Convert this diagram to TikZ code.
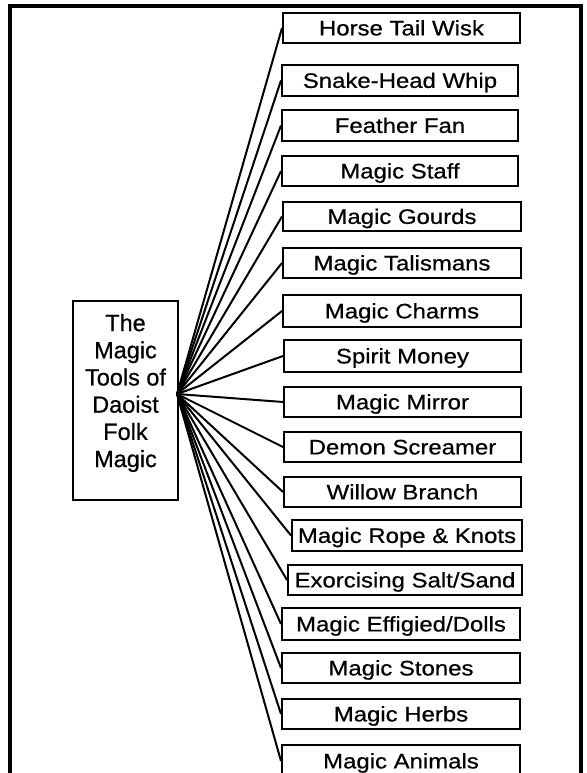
\documentclass[tikz,border=0pt]{standalone}
\usepackage{fontspec}
\setmainfont{Liberation Sans}[FakeBold=0.6]
\newfontfamily\boxfont{Liberation Sans}[FakeStretch=1.14, FakeBold=0.6]
\begin{document}
\begin{tikzpicture}[x=1pt, y=-1pt,
  item/.style={draw, line width=2pt, inner sep=0pt,
    font=\boxfont\fontsize{21}{25}\selectfont, text height=14.8pt, text depth=0pt},
  rootbox/.style={draw, line width=2.4pt, inner sep=0pt, minimum width=105pt, minimum height=199pt},
  roottext/.style={inner sep=0pt, align=center, font=\fontsize{23.5}{27.2}\selectfont},
  conn/.style={line width=2pt},
  frame/.style={line width=3.2pt}]
\clip (0,0) rectangle (586,773);
\fill[white] (0,0) rectangle (586,773);
% outer frame
\coordinate (fbl) at (10,780);
\coordinate (ftl) at (10,6);
\coordinate (ftr) at (581,6);
\coordinate (fbr) at (581,780);
\draw[frame] (fbl) -- (ftl) -- (ftr) -- (fbr);
% root
\node[rootbox] (root) at (125.5,400.5) {};
\node[roottext] (roottxt) at (125.5,393) {The\\Magic\\Tools of\\Daoist\\Folk\\Magic};
\coordinate (hub) at (177,394);
% items
\node[item, minimum width=237pt, minimum height=30pt] (n1) at (401.5,28) {Horse Tail Wisk};
\node[item, minimum width=236pt, minimum height=31pt] (n2) at (400,80.5) {Snake-Head Whip};
\node[item, minimum width=236pt, minimum height=31pt] (n3) at (400,125.5) {Feather Fan};
\node[item, minimum width=236pt, minimum height=30pt] (n4) at (400,171) {Magic Staff};
\node[item, minimum width=238pt, minimum height=29pt] (n5) at (402,216.5) {Magic Gourds};
\node[item, minimum width=238pt, minimum height=30pt] (n6) at (402,263) {Magic Talismans};
\node[item, minimum width=238pt, minimum height=32pt] (n7) at (402,311) {Magic Charms};
\node[item, minimum width=237pt, minimum height=32pt] (n8) at (402.5,356) {Spirit Money};
\node[item, minimum width=237pt, minimum height=30pt] (n9) at (402.5,402) {Magic Mirror};
\node[item, minimum width=237pt, minimum height=30pt] (n10) at (402.5,447) {Demon Screamer};
\node[item, minimum width=237pt, minimum height=30pt] (n11) at (402.5,492) {Willow Branch};
\node[item, minimum width=230pt, minimum height=31pt] (n12) at (407,535.5) {Magic Rope \& Knots};
\node[item, minimum width=234pt, minimum height=30pt] (n13) at (405,580) {Exorcising Salt/Sand};
\node[item, minimum width=238pt, minimum height=32pt] (n14) at (401,624) {Magic Effigied/Dolls};
\node[item, minimum width=238pt, minimum height=30pt] (n15) at (401,668) {Magic Stones};
\node[item, minimum width=238pt, minimum height=30pt] (n16) at (401,714) {Magic Herbs};
\node[item, minimum width=238pt, minimum height=32pt] (n17) at (401,761) {Magic Animals};
% connectors
\foreach \i in {1,...,17} {
  \draw[conn] (hub) -- (n\i.west);
}
\end{tikzpicture}
\end{document}
